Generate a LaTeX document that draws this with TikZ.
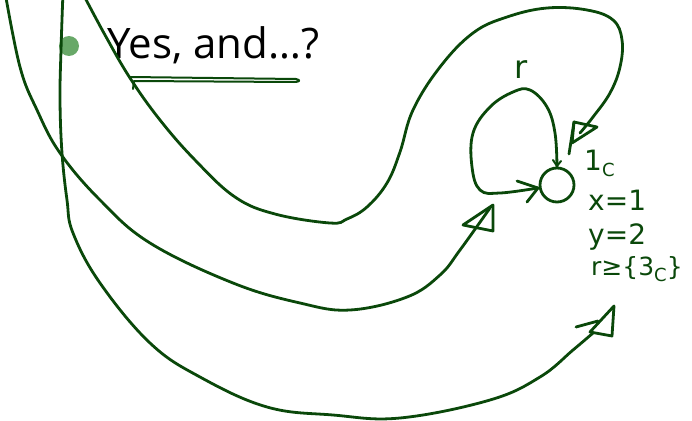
\documentclass[tikz,border=0pt]{standalone}
\usepackage{fontspec}
\setmainfont{Open Sans}
\newfontfamily\hand{DejaVu Sans}
\definecolor{ink}{RGB}{10,72,10}
\definecolor{bul}{RGB}{104,168,104}
\newcommand{\subc}[1]{\raisebox{-0.4ex}{\fontsize{18}{20}\selectfont #1}}
\begin{document}
\begin{tikzpicture}[x=1pt,y=-1pt,
  ink/.style={draw=ink, line width=2.8pt, line cap=round, line join=round},
  handtext/.style={text=ink, inner sep=0pt, font=\hand\fontsize{28}{32}\selectfont},
  bulletdot/.style={circle, fill=bul, minimum size=20pt, inner sep=0pt}]
\useasboundingbox (0,0) rectangle (692,420);

% title line
\node[bulletdot] (bul) at (69,46) {};
\node[anchor=base west, inner sep=0pt, font=\fontsize{42}{50}\selectfont] (title) at (107,58) {Yes, and…?};

% underline stroke
\draw[ink, line width=2pt] (130,77) -- (296,79) .. controls (301,80) and (300,82) .. (294,82) -- (134,81) -- (133,89);

% state and self loop
\node[circle, ink, minimum size=34pt, inner sep=0pt] (st) at (557,185) {};
\coordinate (lpend) at (538,188);
\draw[ink] plot[smooth, tension=0.65] coordinates {(557,167) (555,133) (547,107) (530,90) (513,92) (490,107) (473,133) (472,167) (480,190) (500,193) (lpend)};
\draw[ink] (517,181) -- (lpend) -- (527,202);
\draw[ink, line width=2pt] (553,160) -- (557,166) -- (561,161);
\node[handtext, font=\hand\fontsize{32}{36}\selectfont] (lr) at (521,70) {r};

% curve A (inner)
\coordinate (aend) at (580,133);
\draw[ink] plot[smooth, tension=0.65] coordinates {(82,-8) (105,35) (130,78) (160,120) (195,160) (235,197) (275,214) (330,223) (347,219) (367,207) (387,183) (400,152) (413,110) (440,67) (473,33) (507,17) (547,8) (587,10) (613,20) (622,40) (620,67) (610,93) (593,117) (aend)};
\draw[ink] (574,122) -- (597,127) -- (572,143) -- cycle;
\draw[ink] (574,122) -- (569,154);

% curve B (middle)
\coordinate (bend) at (490,208);
\draw[ink] plot[smooth, tension=0.65] coordinates {(5,-8) (20,67) (37,110) (60,153) (100,200) (150,243) (233,283) (300,303) (350,310) (407,297) (440,275) (460,250) (bend)};
\draw[ink] (493,205) -- (493,231) -- (463,225) -- cycle;

% curve C (outer)
\coordinate (cend) at (593,333);
\draw[ink] plot[smooth, tension=0.65] coordinates {(63,-8) (61,50) (60,100) (62,153) (67,200) (73,233) (100,283) (150,343) (200,377) (267,407) (333,415) (400,418) (490,400) (540,377) (573,350) (cend)};
\draw[ink] (614,306) -- (612,336) -- (590,332) -- cycle;
\draw[ink] (576,327) -- (598,321);

% annotations
\node[handtext, anchor=west] (a1) at (584,163) {1\subc{C}};
\node[handtext, anchor=west] (a2) at (588,200) {x=1};
\node[handtext, anchor=west] (a3) at (588,237) {y=2};
\node[handtext, anchor=west, font=\hand\fontsize{25}{29}\selectfont] (a4) at (591,269) {r≥\{3\subc{C}\}};
\end{tikzpicture}
\end{document}
